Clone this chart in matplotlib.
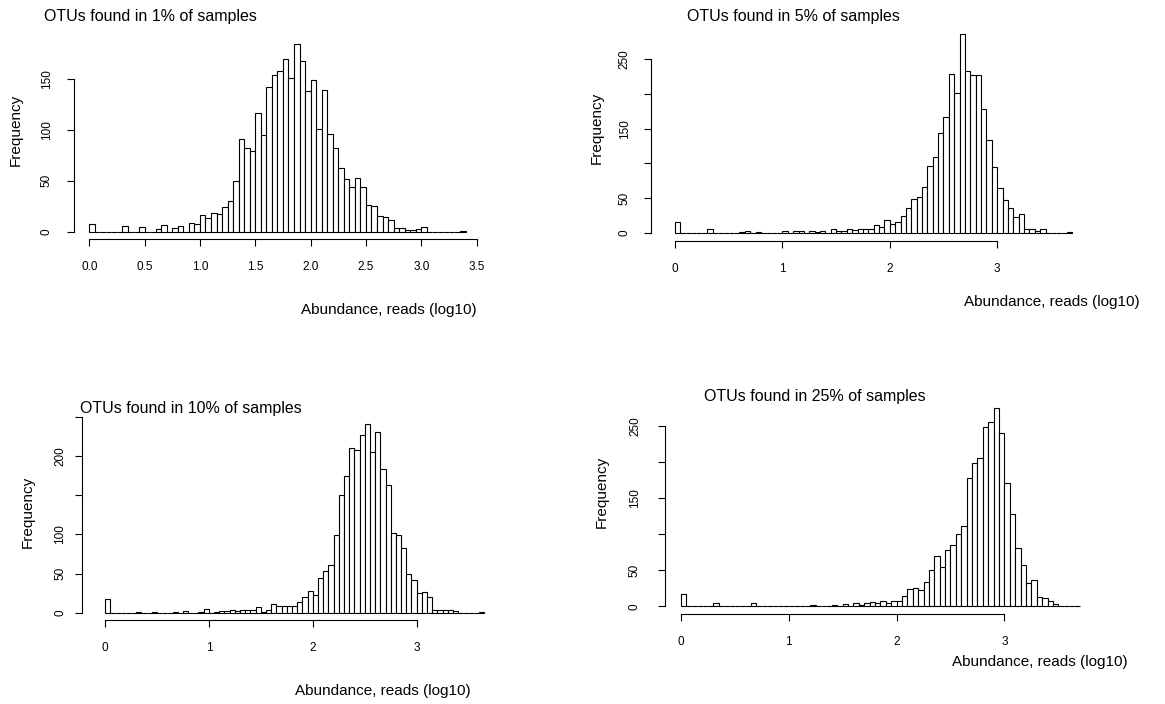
import numpy as np
import matplotlib.pyplot as plt

plt.rcParams["font.family"] = ["Liberation Sans", "DejaVu Sans"]

W, H = 1165, 704
bin_width = 0.05

# histogram counts per 0.05 log10 bin
counts_1 = [8, 0, 0, 0, 0, 0, 6, 0, 0, 5, 0, 0, 3, 7, 0, 4, 6, 0, 9, 8,
            16, 13, 18, 17, 24, 30, 50, 91, 82, 79, 116, 95, 142, 154, 158, 169, 151, 184, 167, 138,
            149, 101, 139, 96, 82, 62, 52, 44, 53, 44, 26, 25, 15, 14, 11, 4, 4, 2, 2, 3,
            5, 0, 0, 0, 0, 0, 0, 1]
counts_5 = [15, 0, 0, 0, 0, 0, 5, 0, 0, 0, 0, 0, 1, 2, 0, 1, 0, 0, 0, 0,
            2, 0, 2, 3, 0, 2, 1, 3, 0, 6, 3, 2, 6, 4, 5, 5, 6, 11, 8, 18,
            12, 15, 24, 35, 49, 51, 66, 96, 109, 144, 167, 229, 202, 286, 233, 228, 228, 179, 133, 95,
            65, 47, 35, 23, 27, 6, 5, 3, 5, 0, 0, 0, 0, 1]
counts_10 = [17, 0, 0, 0, 0, 0, 1, 0, 0, 1, 0, 0, 0, 1, 0, 2, 0, 0, 1, 5,
             0, 1, 2, 2, 3, 2, 4, 3, 3, 7, 1, 4, 11, 9, 9, 9, 8, 14, 20, 28,
             22, 44, 53, 61, 99, 150, 174, 210, 208, 227, 241, 205, 230, 183, 163, 102, 99, 83, 49, 42,
             25, 26, 20, 3, 4, 4, 4, 2, 0, 0, 0, 0, 1]
counts_25 = [17, 0, 0, 0, 0, 0, 4, 0, 0, 1, 0, 0, 1, 4, 0, 0, 1, 0, 0, 1,
             0, 0, 0, 1, 2, 0, 0, 1, 2, 1, 3, 1, 4, 2, 5, 6, 5, 7, 5, 7,
             7, 14, 24, 25, 23, 34, 51, 70, 55, 78, 85, 101, 112, 178, 199, 206, 249, 256, 276, 241,
             171, 128, 81, 57, 33, 37, 13, 12, 7, 3, 1, 0, 0, 1]

titles = ["OTUs found in 1% of samples", "OTUs found in 5% of samples",
          "OTUs found in 10% of samples", "OTUs found in 25% of samples"]
xlab = "Abundance, reads (log10)"
ylab = "Frequency"

x_ticks_1 = [0.0, 0.5, 1.0, 1.5, 2.0, 2.5, 3.0, 3.5]
x_ticks_int = [0, 1, 2, 3]
y_ticks_1 = [0, 50, 100, 150]
y_ticks_other = [0, 50, 100, 150, 200, 250]

# layout in pixels: plot box (left, top, right, bottom) + text anchors
panels = [
    dict(counts=counts_1, box=(74.2, 36.5, 480.6, 239.2), xlim=(-0.136, 3.536),
         xticks=x_ticks_1, xfmt="{:.1f}", yticks=y_ticks_1, yshow=[0, 50, 100, 150], ypad=10,
         title_xy=(150, 16), xlab_xy=(389, 310), ylab_xy=(16, 130)),
    dict(counts=counts_5, box=(650.5, 26.5, 1088.6, 240.6), xlim=(-0.228, 3.851),
         xticks=x_ticks_int, xfmt="{:d}", yticks=y_ticks_other, yshow=[0, 50, 150, 250], ypad=9,
         title_xy=(793, 16), xlab_xy=(1052, 302), ylab_xy=(597, 128)),
    dict(counts=counts_10, box=(81.7, 416.2, 499.7, 620.3), xlim=(-0.224, 3.799),
         xticks=x_ticks_int, xfmt="{:d}", yticks=y_ticks_other, yshow=[0, 50, 100, 200], ypad=6,
         title_xy=(191, 409), xlab_xy=(383, 691), ylab_xy=(28, 512)),
    dict(counts=counts_25, box=(665.0, 399.6, 1095.8, 614.3), xlim=(-0.148, 3.848),
         xticks=x_ticks_int, xfmt="{:d}", yticks=y_ticks_other, yshow=[0, 50, 150, 250], ypad=12,
         title_xy=(815, 396), xlab_xy=(1040, 662), ylab_xy=(602, 492)),
]

fig = plt.figure(figsize=(W / 100, H / 100), dpi=100)

for p, title in zip(panels, titles):
    l, t, r, b = p["box"]
    ax = fig.add_axes([l / W, 1 - b / H, (r - l) / W, (b - t) / H])
    counts = np.array(p["counts"])
    edges = np.arange(len(counts)) * bin_width
    ax.bar(edges, counts, width=bin_width, align="edge", color="white",
           edgecolor="black", linewidth=0.8)
    top = counts.max()
    ax.set_xlim(*p["xlim"])
    ax.set_ylim(-0.04 * top, 1.04 * top)

    ax.spines[["top", "right"]].set_visible(False)
    ax.spines["left"].set_bounds(p["yticks"][0], p["yticks"][-1])
    ax.spines["bottom"].set_bounds(p["xticks"][0], p["xticks"][-1])
    for s in ("left", "bottom"):
        ax.spines[s].set_linewidth(0.8)

    ax.set_xticks(p["xticks"])
    ax.set_xticklabels([p["xfmt"].format(v) for v in p["xticks"]])
    ax.set_yticks(p["yticks"])
    ax.set_yticklabels([str(v) if v in p["yshow"] else "" for v in p["yticks"]],
                       rotation=90, va="center")
    ax.tick_params(direction="out", length=5.3, width=0.8, labelsize=8.5)
    ax.tick_params(axis="x", pad=10.5)
    ax.tick_params(axis="y", pad=p["ypad"])

    fig.text(p["title_xy"][0] / W, 1 - p["title_xy"][1] / H, title,
             ha="center", va="center", fontsize=11.5)
    fig.text(p["xlab_xy"][0] / W, 1 - p["xlab_xy"][1] / H, xlab,
             ha="center", va="center", fontsize=11)
    fig.text(p["ylab_xy"][0] / W, 1 - p["ylab_xy"][1] / H, ylab,
             ha="center", va="center", rotation=90, fontsize=11)

fig.savefig("out.png", dpi=100)
